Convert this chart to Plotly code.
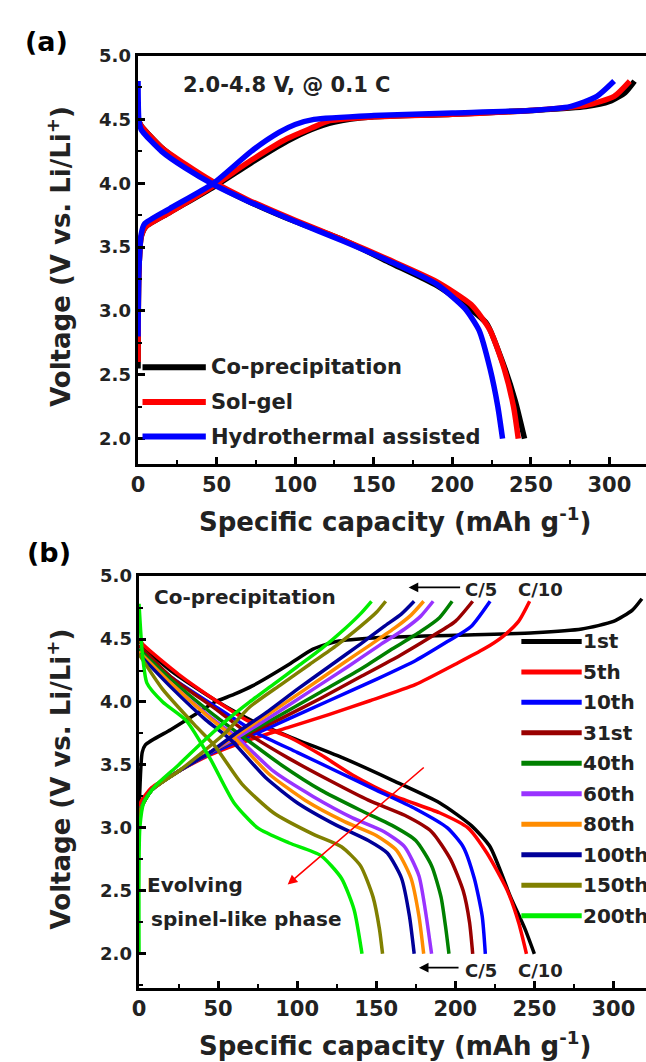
import plotly.graph_objects as go

# ---------------- data: panel (a), first cycle of three syntheses ----------------
a_names = ["Co-precipitation", "Sol-gel", "Hydrothermal assisted"]
a_colors = ["#000000", "#FF0000", "#0000FF"]

a_chg_cap = [
    [0, 0.5, 2, 5, 20, 48, 72, 95, 110, 125, 150, 200, 250, 285, 300, 310, 316],
    [0, 0.5, 2, 5, 20, 48, 72, 95, 110, 122, 150, 200, 250, 285, 303, 313],
    [0, 0.5, 2, 4, 20, 48, 72, 90, 100, 112, 150, 200, 250, 275, 292, 303],
]
a_chg_v = [
    [2.55, 3.3, 3.58, 3.66, 3.77, 3.97, 4.16, 4.33, 4.42, 4.48, 4.52, 4.54, 4.57, 4.6, 4.64, 4.71, 4.8],
    [2.6, 3.3, 3.58, 3.66, 3.77, 3.98, 4.18, 4.35, 4.43, 4.49, 4.52, 4.54, 4.57, 4.61, 4.68, 4.8],
    [2.8, 3.3, 3.6, 3.68, 3.8, 4.0, 4.25, 4.4, 4.46, 4.5, 4.53, 4.55, 4.57, 4.6, 4.68, 4.8],
]
a_dis_cap = [
    [0, 2, 15, 30, 48, 70, 100, 130, 160, 190, 210, 222, 232, 240, 246],
    [0, 2, 15, 30, 48, 70, 100, 130, 160, 190, 212, 224, 233, 239, 242],
    [0, 0.5, 2, 15, 30, 48, 70, 100, 130, 160, 190, 208, 217, 224, 229, 232],
]
a_dis_v = [
    [4.5, 4.45, 4.28, 4.14, 4.0, 3.86, 3.7, 3.56, 3.38, 3.2, 3.03, 2.9, 2.6, 2.3, 2.0],
    [4.5, 4.45, 4.28, 4.15, 4.01, 3.87, 3.71, 3.56, 3.4, 3.23, 3.05, 2.85, 2.55, 2.25, 2.0],
    [4.8, 4.5, 4.42, 4.25, 4.12, 3.99, 3.86, 3.7, 3.55, 3.39, 3.21, 3.02, 2.85, 2.55, 2.25, 2.0],
]

# ---------------- data: panel (b), co-precipitation cycling ----------------
b_names = ["1st", "5th", "10th", "31st", "40th", "60th", "80th", "100th", "150th", "200th"]
b_colors = ["#000000", "#FF0000", "#0000FF", "#990000", "#008000",
            "#9933FF", "#FF8C00", "#000099", "#808000", "#00EE00"]

b_chg_cap = [
    [0, 0.5, 2, 4, 20, 38, 48, 60, 72, 95, 110, 125, 150, 200, 250, 280, 300, 312, 318],
    [0, 1, 8, 25, 45, 70, 95, 120, 146, 175, 200, 218, 230, 240, 247],
    [0, 1, 8, 25, 45, 65, 90, 120, 150, 175, 195, 210, 222],
    [0, 1, 8, 25, 45, 65, 90, 115, 140, 165, 185, 200, 211],
    [0, 1, 8, 25, 45, 65, 90, 115, 140, 160, 178, 190, 198],
    [0, 1, 8, 25, 45, 65, 88, 110, 132, 152, 168, 178, 186],
    [0, 1, 8, 25, 45, 62, 85, 105, 127, 147, 162, 172, 180],
    [0, 1, 8, 25, 45, 60, 82, 100, 120, 140, 155, 166, 174],
    [0, 1, 8, 25, 40, 55, 70, 90, 108, 125, 140, 150, 156],
    [0, 0.5, 3, 10, 25, 40, 55, 70, 85, 100, 115, 130, 140, 147],
]
b_chg_v = [
    [2.9, 3.3, 3.6, 3.66, 3.78, 3.92, 4.0, 4.06, 4.13, 4.3, 4.42, 4.48, 4.51, 4.53, 4.55, 4.58, 4.64, 4.73, 4.82],
    [3.0, 3.2, 3.32, 3.45, 3.58, 3.7, 3.8, 3.9, 4.01, 4.14, 4.3, 4.42, 4.52, 4.64, 4.8],
    [3.0, 3.15, 3.3, 3.45, 3.59, 3.7, 3.84, 4.01, 4.18, 4.33, 4.48, 4.6, 4.8],
    [3.0, 3.15, 3.3, 3.45, 3.6, 3.72, 3.87, 4.03, 4.2, 4.37, 4.52, 4.64, 4.8],
    [3.0, 3.15, 3.3, 3.45, 3.6, 3.73, 3.9, 4.08, 4.26, 4.42, 4.56, 4.67, 4.8],
    [3.0, 3.15, 3.3, 3.45, 3.6, 3.74, 3.92, 4.1, 4.28, 4.45, 4.58, 4.68, 4.8],
    [3.0, 3.15, 3.3, 3.45, 3.6, 3.74, 3.93, 4.1, 4.29, 4.46, 4.59, 4.69, 4.8],
    [3.0, 3.15, 3.3, 3.45, 3.6, 3.74, 3.93, 4.1, 4.28, 4.46, 4.6, 4.7, 4.8],
    [3.0, 3.15, 3.3, 3.45, 3.6, 3.76, 3.96, 4.14, 4.3, 4.45, 4.6, 4.71, 4.8],
    [2.0, 3.0, 3.2, 3.33, 3.5, 3.68, 3.85, 4.0, 4.14, 4.28, 4.42, 4.58, 4.7, 4.8],
]
b_dis_cap = [
    [0, 2, 20, 50, 75, 100, 130, 160, 190, 210, 222, 235, 244, 250],
    [0, 3, 25, 50, 69, 95, 115, 135, 160, 190, 208, 220, 233, 240, 245],
    [0, 20, 50, 75, 100, 125, 150, 175, 195, 205, 212, 217, 219],
    [0, 20, 50, 70, 95, 120, 145, 168, 185, 197, 205, 209, 211],
    [0, 20, 45, 65, 90, 115, 140, 160, 175, 185, 191, 194, 196],
    [0, 20, 45, 62, 85, 110, 135, 155, 168, 177, 181, 185],
    [0, 20, 45, 60, 82, 105, 130, 150, 163, 172, 177, 180],
    [0, 20, 42, 58, 80, 100, 125, 145, 157, 166, 171, 174],
    [0, 15, 35, 48, 65, 85, 110, 128, 140, 148, 152, 154],
    [0, 2, 5, 15, 30, 45, 60, 75, 95, 115, 128, 136, 141],
]
b_dis_v = [
    [4.5, 4.45, 4.25, 4.0, 3.83, 3.7, 3.55, 3.38, 3.2, 3.02, 2.85, 2.45, 2.2, 2.0],
    [4.5, 4.45, 4.22, 4.0, 3.85, 3.72, 3.58, 3.42, 3.26, 3.12, 3.0, 2.8, 2.5, 2.25, 2.0],
    [4.42, 4.2, 3.95, 3.75, 3.6, 3.45, 3.3, 3.15, 3.0, 2.85, 2.6, 2.3, 2.0],
    [4.45, 4.2, 3.93, 3.74, 3.55, 3.38, 3.22, 3.1, 2.97, 2.75, 2.5, 2.25, 2.0],
    [4.42, 4.18, 3.92, 3.73, 3.5, 3.3, 3.14, 3.02, 2.9, 2.7, 2.45, 2.2, 2.0],
    [4.4, 4.15, 3.88, 3.72, 3.45, 3.25, 3.08, 2.97, 2.85, 2.62, 2.35, 2.0],
    [4.4, 4.15, 3.87, 3.72, 3.43, 3.22, 3.05, 2.94, 2.82, 2.6, 2.3, 2.0],
    [4.38, 4.12, 3.86, 3.7, 3.4, 3.2, 3.02, 2.9, 2.8, 2.6, 2.3, 2.0],
    [4.38, 4.1, 3.82, 3.65, 3.35, 3.12, 2.95, 2.85, 2.7, 2.45, 2.2, 2.0],
    [4.78, 4.4, 4.15, 4.0, 3.85, 3.55, 3.2, 3.0, 2.88, 2.78, 2.6, 2.35, 2.0],
]

x_ticks = [0, 50, 100, 150, 200, 250, 300]
y_ticks = [2.0, 2.5, 3.0, 3.5, 4.0, 4.5, 5.0]

# ---------------- figure ----------------
W, H = 646, 1062
FONT = "DejaVu Sans"
fig = go.Figure()


def px_x(p):
    return p / W


def px_y(p):
    return 1 - p / H


for i in range(3):
    for cap, v in ((a_chg_cap[i], a_chg_v[i]), (a_dis_cap[i], a_dis_v[i])):
        fig.add_trace(go.Scatter(x=cap, y=v, mode="lines", xaxis="x", yaxis="y",
                                 line=dict(color=a_colors[i], width=5.5, shape="spline", smoothing=0.6),
                                 showlegend=False, hoverinfo="skip"))

for i in range(len(b_names)):
    for cap, v in ((b_chg_cap[i], b_chg_v[i]), (b_dis_cap[i], b_dis_v[i])):
        fig.add_trace(go.Scatter(x=cap, y=v, mode="lines", xaxis="x2", yaxis="y2",
                                 line=dict(color=b_colors[i], width=3.5, shape="spline", smoothing=0.6),
                                 showlegend=False, hoverinfo="skip"))

axis_common = dict(showline=True, linecolor="black", linewidth=3, ticks="inside",
                   ticklen=7, tickwidth=2.5, tickcolor="black", showgrid=False, zeroline=False)

xa = dict(axis_common, tickvals=x_ticks, mirror=True,
          tickfont=dict(family=FONT, size=21, color="#222", weight="bold"),
          minor=dict(dtick=25, ticks="inside", ticklen=4, tickwidth=2, tickcolor="black"))
ya = dict(axis_common, tickvals=y_ticks, tickformat=".1f",
          tickfont=dict(family=FONT, size=18, color="#222", weight="bold"),
          minor=dict(dtick=0.25, ticks="inside", ticklen=4, tickwidth=2, tickcolor="black"))

fig.update_layout(
    width=W, height=H, margin=dict(l=0, r=0, t=0, b=0),
    paper_bgcolor="white", plot_bgcolor="white",
    xaxis=dict(xa, domain=[px_x(132), 1], range=[-0.3, 323.3], anchor="y"),
    yaxis=dict(ya, domain=[px_y(458), px_y(45)], range=[1.8, 5.0], anchor="x"),
    xaxis2=dict(xa, domain=[px_x(133), 1], range=[-0.3, 320.6], anchor="y2"),
    yaxis2=dict(ya, domain=[px_y(987), px_y(571)], range=[1.73, 5.0], anchor="x2"),
)

ann = []


def label(text, x, y, size, xref="paper", yref="paper", xanchor="center", angle=0, color="#222"):
    ann.append(dict(text=text, x=x, y=y, xref=xref, yref=yref, xanchor=xanchor, yanchor="middle",
                    showarrow=False, textangle=angle,
                    font=dict(family=FONT, size=size, color=color, weight="bold")))


# panel labels
label("(a)", px_x(40), px_y(31), 27, color="black")
label("(b)", px_x(42), px_y(547), 27, color="black")
# axis titles
for yc_title, yc_axis in ((514, 248), (1044, 776)):
    label("Specific capacity (mAh g<sup>-1</sup>)", px_x(392), px_y(yc_title), 26)
    label("Voltage (V vs. Li/Li<sup>+</sup>)", px_x(53), px_y(yc_axis), 26, angle=-90)

label("2.0-4.8 V, @ 0.1 C", 95, 4.77, 21, xref="x", yref="y")
label("Co-precipitation", 67, 4.83, 20, xref="x2", yref="y2")
label("Evolving", 4, 2.55, 20, xref="x2", yref="y2", xanchor="left")
label("spinel-like phase", 6.5, 2.28, 20, xref="x2", yref="y2", xanchor="left")

# rate labels with arrows
for yv in (4.89, 1.87):
    label("C/5", 216, yv, 18, xref="x2", yref="y2")
    label("C/10", 254, yv, 18, xref="x2", yref="y2")
for (x0, x1, yv) in ((204, 170.5, 4.91), (203, 177, 1.89)):
    ann.append(dict(x=x1, y=yv, ax=x0, ay=yv, xref="x2", yref="y2", axref="x2", ayref="y2",
                    text="", showarrow=True, arrowhead=2, arrowsize=1.2, arrowwidth=1.6, arrowcolor="black"))
# cycling trend arrow
ann.append(dict(x=94, y=2.55, ax=181, ay=3.49, xref="x2", yref="y2", axref="x2", ayref="y2",
                text="", showarrow=True, arrowhead=2, arrowsize=1.2, arrowwidth=1.6, arrowcolor="#FF0000"))

# hand-placed legends
shapes = []
for i, name in enumerate(a_names):
    yy = 360 + 35 * i
    shapes.append(dict(type="line", xref="paper", yref="paper", x0=px_x(137), x1=px_x(201),
                       y0=px_y(yy), y1=px_y(yy), line=dict(color=a_colors[i], width=6)))
    label(name, px_x(204), px_y(yy), 21, xanchor="left")
for i, name in enumerate(b_names):
    yy = 637 + 30.8 * i
    shapes.append(dict(type="line", xref="paper", yref="paper", x0=px_x(520), x1=px_x(581),
                       y0=px_y(yy), y1=px_y(yy), line=dict(color=b_colors[i], width=5)))
    label(name, px_x(580), px_y(yy), 20, xanchor="left")

fig.update_layout(annotations=ann, shapes=shapes)
fig.write_html("out.html", post_script="document.body.style.margin='0px';")
